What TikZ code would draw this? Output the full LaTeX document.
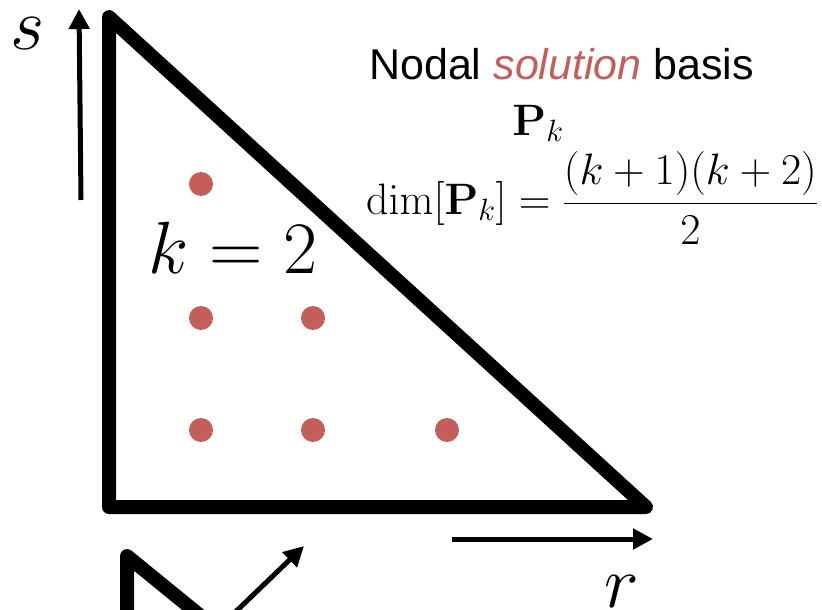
\documentclass[tikz,border=0pt]{standalone}
\usepackage{fix-cm}
\usepackage{amsmath}
\usepackage[no-math]{fontspec}
\newfontfamily\arialfont{Liberation Sans}
\usetikzlibrary{arrows.meta}
\definecolor{solred}{RGB}{197,94,90}
\tikzset{
  edge/.style={line width=14pt, line join=round, line cap=round},
  axisarrow/.style={line width=5pt, -{Triangle[length=20pt,width=20pt]}},
  nodept/.style={circle, fill=solred, minimum size=24pt, inner sep=0pt},
  bigmath/.style={inner sep=0pt, font=\fontsize{74}{84}\selectfont},
  midmath/.style={inner sep=0pt, font=\fontsize{44}{52}\selectfont},
}
\begin{document}
\begin{tikzpicture}[x=1pt,y=-1pt]
\useasboundingbox (0,0) rectangle (822,610);
\clip (0,0) rectangle (822,610);
% main triangle
\coordinate (A) at (109,17);
\coordinate (B) at (109,507);
\coordinate (C) at (646,507);
\draw[edge] (A) -- (B) -- (C) -- cycle;
% partial second triangle at bottom
\coordinate (D) at (127,556);
\coordinate (D1) at (127,640);
\coordinate (D2) at (230,640);
\draw[edge] (D1) -- (D) -- (D2);
% axis arrows
\coordinate (s0) at (81,200);
\coordinate (s1) at (79,9);
\draw[axisarrow] (s0) -- (s1);
\coordinate (r0) at (452,539);
\coordinate (r1) at (653,539);
\draw[axisarrow] (r0) -- (r1);
\coordinate (t0) at (225,622);
\coordinate (t1) at (304,546);
\draw[axisarrow] (t0) -- (t1);
% labels
\node[bigmath, anchor=base] (slab) at (28,50) {$s$};
\node[bigmath, anchor=base] (rlab) at (622,607) {$r$};
\node[bigmath, anchor=base] (klab) at (233,273) {$k=2$};
% nodal points
\node[nodept] (n1) at (201,184) {};
\node[nodept] (n2) at (201,318) {};
\node[nodept] (n3) at (313,318) {};
\node[nodept] (n4) at (201,430) {};
\node[nodept] (n5) at (313,430) {};
\node[nodept] (n6) at (447,430) {};
% title text
\node[inner sep=0pt, anchor=base west, font=\arialfont\fontsize{43}{50}\selectfont] (title) at (369,80)
  {Nodal \textcolor{solred}{\itshape solution} basis};
\node[midmath, anchor=base] (pk) at (538,135) {$\mathbf{P}_k$};
\node[midmath, anchor=base west] (dimeq) at (366,214)
  {$\dim[\mathbf{P}_k] = \dfrac{(k+1)(k+2)}{2}$};
\end{tikzpicture}
\end{document}
